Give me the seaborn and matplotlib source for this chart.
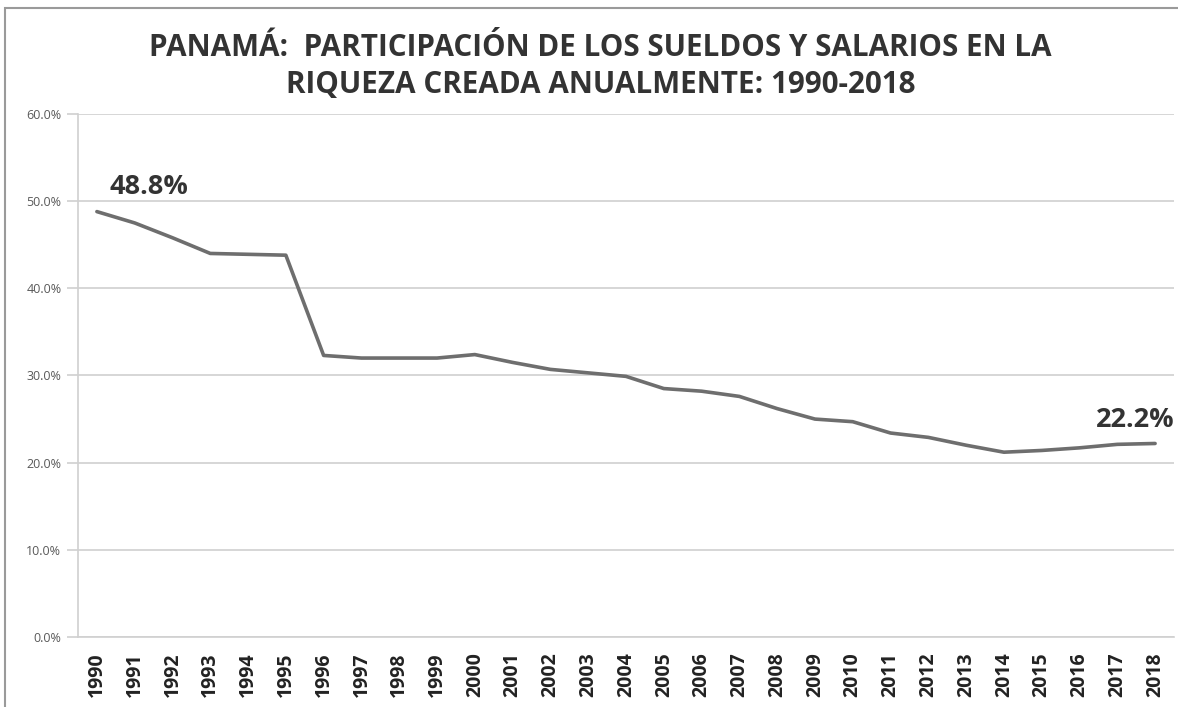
import matplotlib
matplotlib.use("Agg")
import matplotlib.pyplot as plt
import seaborn as sns
import pandas as pd
from matplotlib.patches import Rectangle

years = list(range(1990, 2019))
share = [48.8, 47.5, 45.8, 44.0, 43.9, 43.8, 32.3, 32.0, 32.0, 32.0,
         32.4, 31.5, 30.7, 30.3, 29.9, 28.5, 28.2, 27.6, 26.2, 25.0,
         24.7, 23.4, 22.9, 22.0, 21.2, 21.4, 21.7, 22.1, 22.2]
title = "PANAMÁ:  PARTICIPACIÓN DE LOS SUELDOS Y SALARIOS EN LA\nRIQUEZA CREADA ANUALMENTE: 1990-2018"
yticks = [0, 10, 20, 30, 40, 50, 60]
ytick_labels = ["0.0%", "10.0%", "20.0%", "30.0%", "40.0%", "50.0%", "60.0%"]

df = pd.DataFrame({"year": years, "share": share})

sns.set_theme(style="white")
plt.rcParams['font.family'] = ['Open Sans', 'DejaVu Sans']

fig = plt.figure(figsize=(11.78, 7.07), dpi=100)
ax = fig.add_axes([0.0662, 0.099, 0.9304, 0.7398])

sns.lineplot(data=df, x="year", y="share", ax=ax, color="#6e6e6e", linewidth=2.6)

ax.set_xlim(1989.5, 2018.5)
ax.set_ylim(0, 60)
ax.set_yticks(yticks)
ax.set_yticklabels(ytick_labels, fontsize=9, color="#595959")
ax.set_xticks(years)
ax.set_xticklabels([str(y) for y in years], rotation=90, fontsize=14,
                   fontweight="bold", color="#222222")
ax.set_xticks([y - 0.5 for y in years] + [2018.5], minor=True)
ax.tick_params(axis="x", which="major", length=0, pad=11)
ax.tick_params(axis="x", which="minor", length=7, width=1.2, color="#c8c8c8", direction="out")
ax.tick_params(axis="y", length=8, width=1.2, color="#d0d0d0", direction="out", pad=4, left=True)
ax.grid(axis="y", color="#d0d0d0", linewidth=1.2)
ax.set_axisbelow(True)
for s in ["top", "right"]:
    ax.spines[s].set_visible(False)
ax.spines["left"].set_color("#d0d0d0")
ax.spines["left"].set_linewidth(1.2)
ax.spines["bottom"].set_color("#d0d0d0")
ax.spines["bottom"].set_linewidth(1.2)
ax.set_xlabel("")
ax.set_ylabel("")

ax.annotate(f"{share[0]:.1f}%", xy=(years[0], share[0]), xytext=(9, 18),
            textcoords="offset points", fontsize=19.5, fontweight="bold",
            color="#333333", ha="left", va="center")
ax.annotate(f"{share[-1]:.1f}%", xy=(years[-1], share[-1]), xytext=(14, 17),
            textcoords="offset points", fontsize=19.5, fontweight="bold",
            color="#333333", ha="right", va="center", annotation_clip=False)

fig.text(0.510, 0.906, title, ha="center", va="center", fontsize=21.3,
         fontweight="bold", color="#333333", linespacing=1.3)

fig.patches.append(Rectangle((5 / 1178, -0.01), 1.2, 1 - 8 / 707 + 0.01,
                             transform=fig.transFigure, fill=False,
                             edgecolor="#9a9a9a", linewidth=1.5))

fig.savefig("out.png", dpi=100, facecolor="white")
